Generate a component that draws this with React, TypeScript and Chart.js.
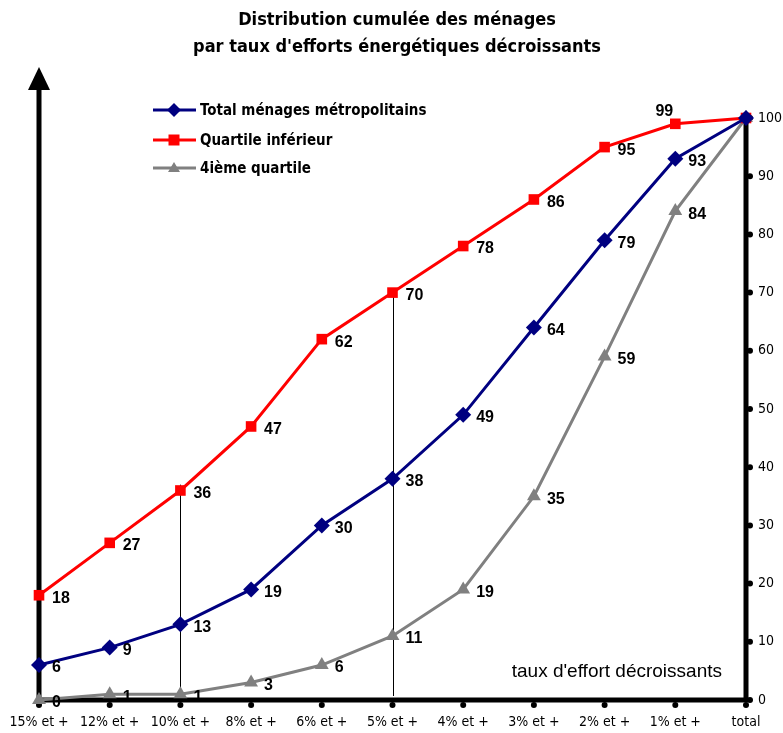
import React, { useEffect, useRef } from "react";
import { Chart, registerables } from "chart.js";

Chart.register(...registerables);

const categories = ["15% et +", "12% et +", "10% et +", "8% et +", "6% et +", "5% et +", "4% et +", "3% et +", "2% et +", "1% et +", "total"];
const totalMenages = [6, 9, 13, 19, 30, 38, 49, 64, 79, 93, 100];
const quartileInferieur = [18, 27, 36, 47, 62, 70, 78, 86, 95, 99, 100];
const quatriemeQuartile = [0, 1, 1, 3, 6, 11, 19, 35, 59, 84, 100];
const yTicks = [0, 10, 20, 30, 40, 50, 60, 70, 80, 90, 100];
const seriesNames = ["Total ménages métropolitains", "Quartile inférieur", "4ième quartile"];
const titleLines = ["Distribution cumulée des ménages", "par taux d'efforts énergétiques décroissants"];
const axisNote = "taux d'effort décroissants";
// reference lines: [category index, top value]
const guideLines = [[2, 37], [5, 70]];

const NARROW = "'Liberation Sans Narrow', 'DejaVu Sans Condensed', 'Liberation Sans', Arial, sans-serif";
const ARIAL = "'Liberation Sans', Arial, sans-serif";

const colors = ["#000080", "#FF0000", "#808080"];
const markers = ["rectRot", "rect", "triangle"];

const customPlugin = {
  id: "custom",
  beforeDatasetsDraw(chart: any) {
    const ctx = chart.ctx;
    const x = chart.scales.x;
    const y = chart.scales.y;
    const x0 = x.getPixelForValue(0);
    const x1 = x.getPixelForValue(categories.length - 1);
    const y0 = y.getPixelForValue(0);
    const y100 = y.getPixelForValue(100);
    ctx.save();
    // guide lines
    ctx.strokeStyle = "#000";
    ctx.lineWidth = 1;
    guideLines.forEach(([i, v]) => {
      const px = Math.round(x.getPixelForValue(i)) + 0.5;
      ctx.beginPath();
      ctx.moveTo(px, y.getPixelForValue(v));
      ctx.lineTo(px, y0 - 4);
      ctx.stroke();
    });
    // axes
    ctx.lineWidth = 5;
    ctx.lineCap = "butt";
    ctx.beginPath();
    ctx.moveTo(x0, y0 + 2.5);
    ctx.lineTo(x0, 88);
    ctx.stroke();
    ctx.beginPath();
    ctx.moveTo(x0 - 2.5, y0);
    ctx.lineTo(x1 + 2.5, y0);
    ctx.stroke();
    ctx.beginPath();
    ctx.moveTo(x1, y0);
    ctx.lineTo(x1, y100);
    ctx.stroke();
    // arrow
    ctx.fillStyle = "#000";
    ctx.beginPath();
    ctx.moveTo(x0, 67);
    ctx.lineTo(x0 - 11, 90);
    ctx.lineTo(x0 + 11, 90);
    ctx.closePath();
    ctx.fill();
    // x tick dots and labels
    ctx.font = "14px " + NARROW;
    ctx.textAlign = "center";
    ctx.textBaseline = "middle";
    categories.forEach((c, i) => {
      const px = x.getPixelForValue(i);
      ctx.beginPath();
      ctx.arc(px, y0 + 5, 3, 0, Math.PI * 2);
      ctx.fill();
      ctx.fillText(c, px, 722);
    });
    // right axis tick dots and labels
    ctx.textAlign = "left";
    ctx.font = "14px " + NARROW;
    yTicks.forEach((t) => {
      const py = y.getPixelForValue(t);
      ctx.beginPath();
      ctx.arc(x1 + 4, py, 3, 0, Math.PI * 2);
      ctx.fill();
      ctx.fillText(String(t), x1 + 12, py);
    });
    // note
    ctx.font = "19px " + ARIAL;
    ctx.textAlign = "right";
    ctx.fillText(axisNote, 722, 672);
    // title
    ctx.font = "bold 18px " + NARROW;
    ctx.textAlign = "center";
    ctx.fillText(titleLines[0], 397, 20);
    ctx.fillText(titleLines[1], 397, 47);
    ctx.restore();
  },
  afterDatasetsDraw(chart: any) {
    const ctx = chart.ctx;
    ctx.save();
    ctx.font = "bold 16px " + ARIAL;
    ctx.fillStyle = "#000";
    ctx.textBaseline = "middle";
    chart.data.datasets.forEach((ds: any, di: number) => {
      const meta = chart.getDatasetMeta(di);
      meta.data.forEach((pt: any, i: number) => {
        if (i === categories.length - 1) return;
        const v = ds.data[i];
        if (di === 1 && i === 9) {
          ctx.textAlign = "center";
          ctx.fillText(String(v), pt.x - 11, pt.y - 12);
        } else {
          ctx.textAlign = "left";
          ctx.fillText(String(v), pt.x + 13, pt.y + 3);
        }
      });
    });
    // legend
    ctx.font = "bold 15px " + NARROW;
    const items = [110, 140, 168];
    items.forEach((ly, i) => {
      ctx.strokeStyle = colors[i];
      ctx.fillStyle = colors[i];
      ctx.lineWidth = 3;
      ctx.beginPath();
      ctx.moveTo(153, ly);
      ctx.lineTo(196, ly);
      ctx.stroke();
      const cx = 174;
      ctx.beginPath();
      if (i === 0) {
        ctx.moveTo(cx, ly - 7);
        ctx.lineTo(cx + 7, ly);
        ctx.lineTo(cx, ly + 7);
        ctx.lineTo(cx - 7, ly);
      } else if (i === 1) {
        ctx.rect(cx - 5.5, ly - 5.5, 11, 11);
      } else {
        ctx.moveTo(cx, ly - 6);
        ctx.lineTo(cx + 6, ly + 4);
        ctx.lineTo(cx - 6, ly + 4);
      }
      ctx.closePath();
      ctx.fill();
      ctx.fillStyle = "#000";
      ctx.textAlign = "left";
      ctx.fillText(seriesNames[i], 200, ly + 1);
    });
    ctx.restore();
  },
};

export default function App() {
  const ref = useRef<HTMLCanvasElement | null>(null);
  useEffect(() => {
    document.body.style.margin = "0";
    const series = [totalMenages, quartileInferieur, quatriemeQuartile];
    const chart = new Chart(ref.current as HTMLCanvasElement, {
      type: "line",
      data: {
        labels: categories,
        datasets: series.map((d, i) => ({
          label: seriesNames[i],
          data: d,
          borderColor: colors[i],
          backgroundColor: colors[i],
          borderWidth: 3,
          pointStyle: markers[i] as any,
          pointRadius: i === 0 ? 8 : i === 1 ? 7.5 : 8,
          pointBorderWidth: 0,
          pointBackgroundColor: colors[i],
          pointBorderColor: colors[i],
          tension: 0,
          clip: false as any,
        })),
      },
      options: {
        responsive: false,
        animation: false,
        layout: { padding: { left: 39, right: 37, top: 118, bottom: 33 } },
        plugins: { legend: { display: false }, tooltip: { enabled: false }, title: { display: false } },
        scales: {
          x: { type: "category", offset: false, display: false },
          y: { min: 0, max: 100, display: false },
        },
      },
      plugins: [customPlugin],
    });
    return () => chart.destroy();
  }, []);
  return (
    <div style={{ width: 783, height: 733 }}>
      <canvas ref={ref} width={783} height={733} style={{ display: "block" }} />
    </div>
  );
}
